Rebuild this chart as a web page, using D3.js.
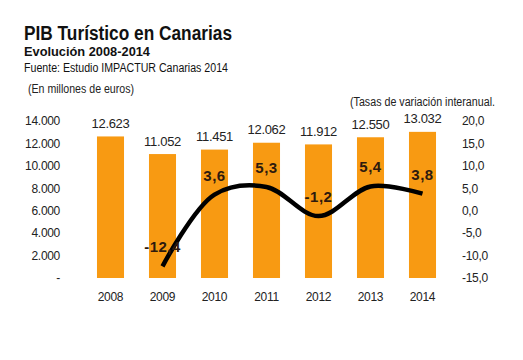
<!DOCTYPE html>
<html><head><meta charset="utf-8">
<script src="https://cdn.jsdelivr.net/npm/d3@7"></script>
<style>body{margin:0;background:#fff;}svg{display:block;font-family:"Liberation Sans",Arial,sans-serif;}</style>
</head><body>
<script>
const years = ["2008","2009","2010","2011","2012","2013","2014"];
const pib = [12623, 11052, 11451, 12062, 11912, 12550, 13032];
const pibLabels = ["12.623","11.052","11.451","12.062","11.912","12.550","13.032"];
const variation = [null, -12.4, 3.6, 5.3, -1.2, 5.4, 3.8];
const variationLabels = ["", "-12,4", "3,6", "5,3", "-1,2", "5,4", "3,8"];
const leftTicks = [0, 2000, 4000, 6000, 8000, 10000, 12000, 14000];
const leftTickLabels = ["-", "2.000", "4.000", "6.000", "8.000", "10.000", "12.000", "14.000"];
const rightTicks = [-15, -10, -5, 0, 5, 10, 15, 20];
const rightTickLabels = ["-15,0", "-10,0", "-5,0", "0,0", "5,0", "10,0", "15,0", "20,0"];

const W = 523, H = 360;
const svg = d3.select("body").append("svg").attr("width", W).attr("height", H);

const x = d3.scaleBand().domain(years).range([84.5, 448.5]).paddingInner(0.48).paddingOuter(0.24);
const yL = d3.scaleLinear().domain([0, 14000]).range([278, 121]);
const yR = d3.scaleLinear().domain([-15, 20]).range([278, 121]);

// titles
function fitText(xp, yp, size, weight, fill, txt, len) {
  return svg.append("text").attr("x", xp).attr("y", yp).attr("font-size", size).attr("font-weight", weight)
    .attr("fill", fill).attr("textLength", len).attr("lengthAdjust", "spacingAndGlyphs").text(txt);
}
fitText(24, 40, 20, "bold", "#111", "PIB Turístico en Canarias", 208);
fitText(24, 56, 13, "bold", "#111", "Evolución 2008-2014", 126);
fitText(24, 72, 12, "normal", "#111", "Fuente: Estudio IMPACTUR Canarias 2014", 204);
fitText(28, 93, 12, "normal", "#222", "(En millones de euros)", 106);
fitText(350, 106, 12, "normal", "#222", "(Tasas de variación interanual.", 145);

// left axis
const axL = d3.axisLeft(yL).tickValues(leftTicks).tickSize(0).tickPadding(0)
  .tickFormat((d, i) => leftTickLabels[i]);
const gL = svg.append("g").attr("transform", "translate(60,0)").call(axL);
gL.select(".domain").remove();
gL.selectAll("text").attr("font-size", 12).attr("fill", "#222").attr("font-family", "Liberation Sans, Arial, sans-serif").attr("letter-spacing", -0.3);

// right axis
const axR = d3.axisRight(yR).tickValues(rightTicks).tickSize(0).tickPadding(0)
  .tickFormat((d, i) => rightTickLabels[i]);
const gR = svg.append("g").attr("transform", "translate(462,0)").call(axR);
gR.select(".domain").remove();
gR.selectAll("text").attr("font-size", 12).attr("fill", "#222").attr("font-family", "Liberation Sans, Arial, sans-serif").attr("letter-spacing", -0.3);

// x axis
const axX = d3.axisBottom(x).tickSize(0).tickPadding(0);
const gX = svg.append("g").attr("transform", "translate(0,292)").call(axX);
gX.select(".domain").remove();
gX.selectAll("text").attr("font-size", 12).attr("fill", "#222").attr("font-family", "Liberation Sans, Arial, sans-serif").attr("letter-spacing", -0.3);

// bars
svg.append("g").selectAll("rect").data(pib).join("rect")
  .attr("x", (d, i) => x(years[i])).attr("width", x.bandwidth())
  .attr("y", d => yL(d)).attr("height", d => yL(0) - yL(d))
  .attr("fill", "#f89a12");

svg.append("g").selectAll("text").data(pib).join("text")
  .attr("x", (d, i) => x(years[i]) + x.bandwidth() / 2)
  .attr("y", d => yL(d) - 8.5)
  .attr("text-anchor", "middle").attr("font-size", 13).attr("letter-spacing", -0.3)
  .attr("fill", "#222").text((d, i) => pibLabels[i]);

// line
const pts = variation.map((v, i) => ({ v, i })).filter(p => p.v !== null);
const line = d3.line().x(p => x(years[p.i]) + x.bandwidth() / 2).y(p => yR(p.v)).curve(d3.curveCatmullRom.alpha(0.5));

svg.append("path").datum(pts).attr("d", line).attr("fill", "none")
  .attr("stroke", "#000").attr("stroke-width", 4.5).attr("stroke-linecap", "butt");

svg.append("g").selectAll("text").data(pts).join("text")
  .attr("x", p => x(years[p.i]) + x.bandwidth() / 2)
  .attr("y", p => yR(p.v) - 14)
  .attr("text-anchor", "middle").attr("font-size", 15).attr("font-weight", "bold")
  .attr("letter-spacing", 0.5)
  .attr("fill", "#2e1a0e").text(p => variationLabels[p.i]);
</script>
</body></html>
